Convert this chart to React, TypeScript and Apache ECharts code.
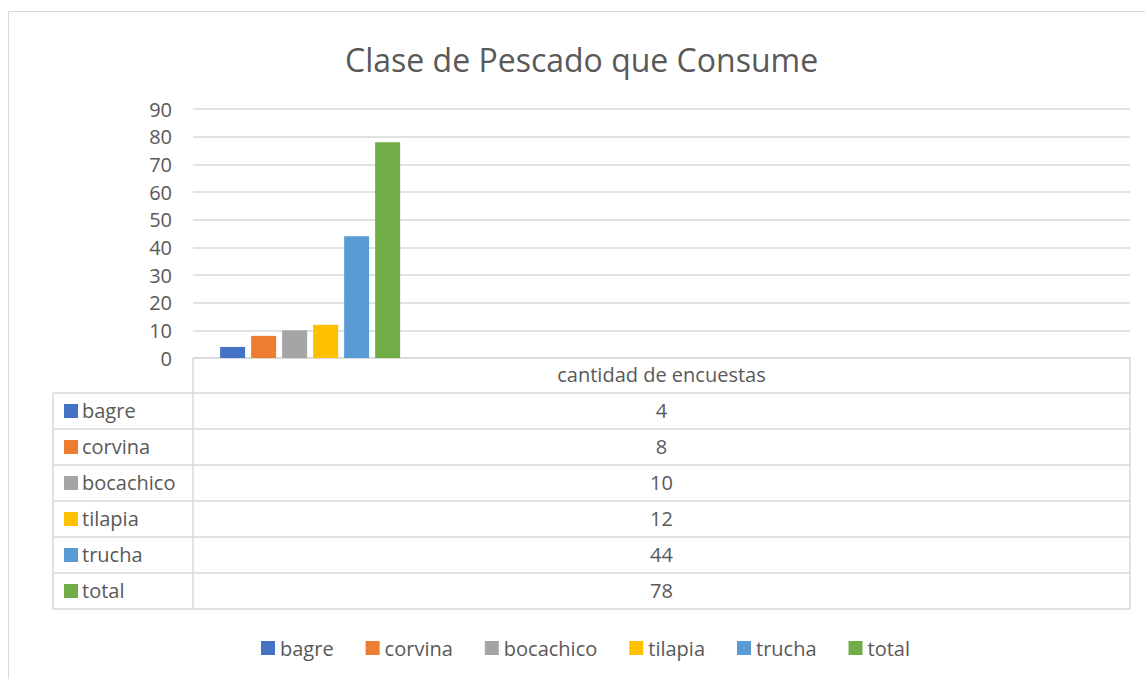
import React, { useEffect, useRef } from "react";
import * as echarts from "echarts";

const titleText = "Clase de Pescado que Consume";
const categories = ["cantidad de encuestas"];
const seriesNames = ["bagre", "corvina", "bocachico", "tilapia", "trucha", "total"];
const seriesValues = [4, 8, 10, 12, 44, 78];
const seriesColors = ["#4472C4", "#ED7D31", "#A5A5A5", "#FFC000", "#5B9BD5", "#70AD47"];
const yTicks = [0, 10, 20, 30, 40, 50, 60, 70, 80, 90];

const W = 1145;
const H = 679;
const FONT = "'Open Sans', 'Noto Sans', sans-serif";
const TEXT = "#595959";
const LINE = "#D9D9D9";

export default function App() {
  const ref = useRef<HTMLDivElement>(null);

  useEffect(() => {
    document.body.style.margin = "0";
    if (!ref.current) return;
    const chart = echarts.init(ref.current, null, { renderer: "svg" });

    const plotLeft = 193;
    const plotRight = 1130;
    const plotTop = 109;
    const plotBottom = 358;
    const tableLeft = 53;
    const rowH = 36;
    const headerBottom = 393;
    const tableBottom = headerBottom + rowH * seriesNames.length;
    const midX = (plotLeft + plotRight) / 2;

    const graphics: any[] = [];
    graphics.push({
      type: "rect",
      shape: { x: 8.5, y: 11.5, width: 1400, height: 900 },
      style: { fill: "none", stroke: LINE, lineWidth: 1 },
      silent: true,
    });
    graphics.push({ type: "line", shape: { x1: plotLeft, y1: plotBottom, x2: plotLeft, y2: tableBottom }, style: { stroke: LINE, lineWidth: 1.5 } });
    graphics.push({ type: "line", shape: { x1: plotRight, y1: plotBottom, x2: plotRight, y2: tableBottom }, style: { stroke: LINE, lineWidth: 1.5 } });
    graphics.push({ type: "line", shape: { x1: tableLeft, y1: headerBottom, x2: tableLeft, y2: tableBottom }, style: { stroke: LINE, lineWidth: 1.5 } });
    for (let i = 0; i <= seriesNames.length; i++) {
      const y = headerBottom + i * rowH;
      graphics.push({ type: "line", shape: { x1: tableLeft, y1: y, x2: plotRight, y2: y }, style: { stroke: LINE, lineWidth: 1.5 } });
    }
    graphics.push({
      type: "text",
      x: midX,
      y: (plotBottom + headerBottom) / 2 - 1,
      style: { text: categories[0], fill: TEXT, font: `20px ${FONT}`, textAlign: "center", textVerticalAlign: "middle" },
    });
    seriesNames.forEach((n, i) => {
      const cy = headerBottom + i * rowH + rowH / 2;
      graphics.push({ type: "rect", shape: { x: 64, y: cy - 7, width: 14, height: 14 }, style: { fill: seriesColors[i] } });
      graphics.push({
        type: "text",
        x: 82,
        y: cy - 1,
        style: { text: n, fill: TEXT, font: `20px ${FONT}`, textAlign: "left", textVerticalAlign: "middle" },
      });
      graphics.push({
        type: "text",
        x: midX,
        y: cy - 1,
        style: { text: String(seriesValues[i]), fill: TEXT, font: `20px ${FONT}`, textAlign: "center", textVerticalAlign: "middle" },
      });
    });

    const option: any = {
      animation: false,
      backgroundColor: "#ffffff",
      title: {
        text: titleText,
        left: 340,
        top: 38,
        textStyle: { fontFamily: FONT, fontSize: 32, fontWeight: "normal", color: TEXT },
      },
      legend: {
        data: seriesNames,
        left: 256,
        top: 633,
        icon: "rect",
        itemWidth: 14,
        itemHeight: 14,
        itemGap: 32,
        textStyle: { fontFamily: FONT, fontSize: 20, color: TEXT },
      },
      grid: {
        left: plotLeft,
        right: W - plotRight,
        top: plotTop,
        bottom: H - plotBottom,
        containLabel: false,
      },
      xAxis: {
        type: "category",
        data: [...categories, "", "", ""],
        axisLine: { show: true, lineStyle: { color: LINE, width: 1.5 } },
        axisTick: { show: false },
        axisLabel: { show: false },
      },
      yAxis: {
        type: "value",
        min: yTicks[0],
        max: yTicks[yTicks.length - 1],
        interval: 10,
        axisLine: { show: false },
        axisTick: { show: false },
        axisLabel: { margin: 21, fontFamily: FONT, fontSize: 20, color: TEXT },
        splitLine: { lineStyle: { color: LINE, width: 1.5 } },
      },
      series: seriesNames.map((n, i) => ({
        name: n,
        type: "bar",
        data: [seriesValues[i]],
        barWidth: 25,
        barGap: "24%",
        itemStyle: { color: seriesColors[i] },
      })),
      graphic: graphics,
    };

    chart.setOption(option);
    return () => chart.dispose();
  }, []);

  return <div ref={ref} style={{ width: W, height: H }} />;
}
